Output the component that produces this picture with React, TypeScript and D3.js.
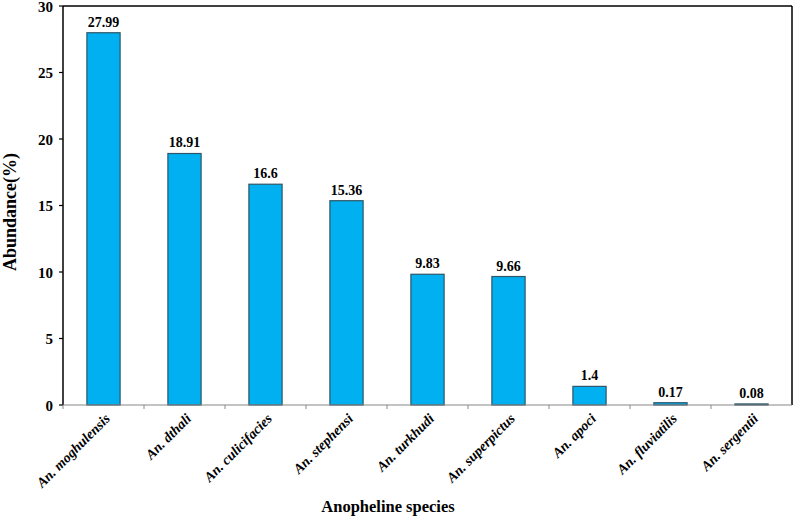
import React from "react";
import * as d3 from "d3";

const species = [
  "An. moghulensis",
  "An. dthali",
  "An. culicifacies",
  "An. stephensi",
  "An. turkhudi",
  "An. superpictus",
  "An. apoci",
  "An. fluviatilis",
  "An. sergentii",
];
const abundance = [27.99, 18.91, 16.6, 15.36, 9.83, 9.66, 1.4, 0.17, 0.08];
const valueLabels = ["27.99", "18.91", "16.6", "15.36", "9.83", "9.66", "1.4", "0.17", "0.08"];
const yTicks = [0, 5, 10, 15, 20, 25, 30];

const W = 797;
const H = 518;
const M = { left: 63, right: 792, top: 6, bottom: 405 };
const FONT = "'Liberation Serif', 'Times New Roman', serif";

export default function App() {
  const x = d3.scaleBand<string>().domain(species).range([M.left, M.right]).paddingInner(0.59).paddingOuter(0.295);
  const xBand = d3.scaleBand<string>().domain(species).range([M.left, M.right]);
  const y = d3.scaleLinear().domain([0, 30]).range([M.bottom, M.top]);

  return (
    <svg width={W} height={H} style={{ position: "absolute", left: 0, top: 0, background: "#fff" }} fontFamily={FONT}>
      <rect x={0} y={0} width={W} height={H} fill="#fff" />
      {/* frame */}
      <line x1={M.left} x2={M.right} y1={M.top} y2={M.top} stroke="#000" strokeWidth={1.5} />
      <line x1={M.right} x2={M.right} y1={M.top} y2={M.bottom} stroke="#000" strokeWidth={1.5} />
      {/* bars */}
      {species.map((s, i) => (
        <g key={s}>
          <rect
            x={x(s)!}
            y={y(abundance[i])}
            width={x.bandwidth()}
            height={M.bottom - y(abundance[i])}
            fill="#00B0F0"
            stroke="#2E5568"
            strokeWidth={1.2}
          />
          <text
            x={x(s)! + x.bandwidth() / 2}
            y={y(abundance[i]) - 6}
            textAnchor="middle"
            fontWeight="bold"
            fontSize={14}
            fill="#000"
          >
            {valueLabels[i]}
          </text>
        </g>
      ))}
      {/* axes */}
      <line x1={M.left} x2={M.left} y1={M.top} y2={M.bottom} stroke="#000" strokeWidth={1.5} />
      <line x1={M.left} x2={M.right} y1={M.bottom} y2={M.bottom} stroke="#888" strokeWidth={1.2} />
      {yTicks.map((t) => (
        <g key={t}>
          <line x1={M.left - 4} x2={M.left} y1={y(t)} y2={y(t)} stroke="#000" strokeWidth={1.2} />
          <text x={M.left - 10} y={y(t) + 5.5} textAnchor="end" fontWeight="bold" fontSize={15}>
            {t}
          </text>
        </g>
      ))}
      {species.map((s, i) => (
        <line
          key={"t" + i}
          x1={xBand(s)!}
          x2={xBand(s)!}
          y1={M.bottom}
          y2={M.bottom + 4}
          stroke="#888"
          strokeWidth={1}
        />
      ))}
      {species.map((s) => {
        const cx = xBand(s)! + xBand.bandwidth() / 2 + 4;
        const cy = M.bottom + 11;
        return (
          <text
            key={"l" + s}
            transform={`translate(${cx},${cy}) rotate(-45)`}
            textAnchor="end"
            dy="0.35em"
            fontWeight="bold"
            fontStyle="italic"
            fontSize={14}
          >
            {s}
          </text>
        );
      })}
      <text x={388} y={512} textAnchor="middle" fontWeight="bold" fontSize={16.5}>
        Anopheline species
      </text>
      <text
        transform={`translate(16,212) rotate(-90)`}
        textAnchor="middle"
        fontWeight="bold"
        fontSize={18}
      >
        Abundance(%)
      </text>
    </svg>
  );
}
